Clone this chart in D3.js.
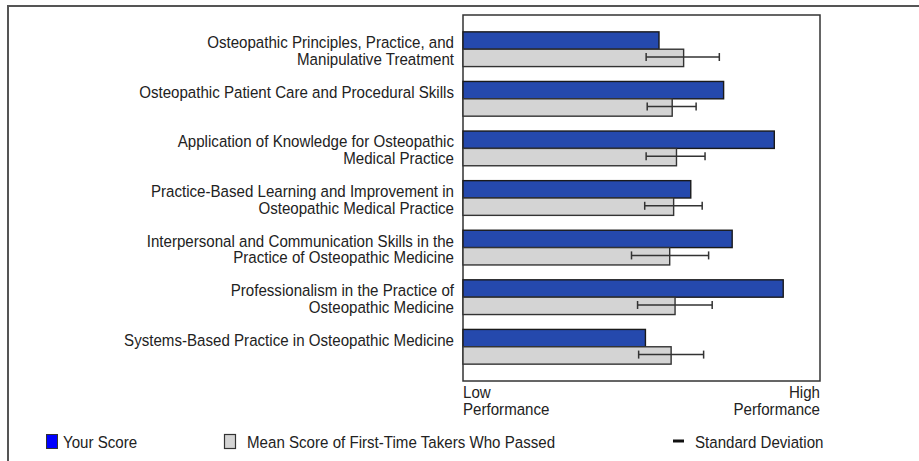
<!DOCTYPE html>
<html>
<head>
<meta charset="utf-8">
<script src="https://d3js.org/d3.v7.min.js"></script>
<style>
  body { margin: 0; background: #fff; }
  text { font-family: "Liberation Sans", Arial, sans-serif; fill: #222; }
</style>
</head>
<body>
<div id="my_dataviz"></div>
<script>
// categories (each label split into its lines)
var categories = [
    ["Osteopathic Principles, Practice, and", "Manipulative Treatment"],
    ["Osteopathic Patient Care and Procedural Skills"],
    ["Application of Knowledge for Osteopathic", "Medical Practice"],
    ["Practice-Based Learning and Improvement in", "Osteopathic Medical Practice"],
    ["Interpersonal and Communication Skills in the", "Practice of Osteopathic Medicine"],
    ["Professionalism in the Practice of", "Osteopathic Medicine"],
    ["Systems-Based Practice in Osteopathic Medicine"]
];
var yourScore = [54.9, 73.0, 87.2, 63.8, 75.4, 89.7, 51.1];
var meanScore = [61.8, 58.6, 59.8, 59.0, 57.9, 59.4, 58.3];
var sdLow = [51.3, 51.6, 51.3, 50.9, 47.2, 48.9, 49.2];
var sdHigh = [71.8, 65.3, 67.8, 67.0, 68.8, 69.8, 67.4];
var legendLabels = ["Your Score", "Mean Score of First-Time Takers Who Passed", "Standard Deviation"];

var W = 919, H = 461;
var plot = { left: 463, right: 820, top: 15, bottom: 381 };
var fs = 16.5, sx = 0.916; // condensed look of the text

var svg = d3.select("#my_dataviz")
    .append("svg")
    .attr("width", W)
    .attr("height", H);

// outer frame (partly visible)
svg.append("path")
    .attr("d", "M8," + H + "V6H" + W)
    .attr("fill", "none")
    .attr("stroke", "#555")
    .attr("stroke-width", 2);

var data = categories.map(function (c, i) {
    return { lines: c, you: yourScore[i], mean: meanScore[i], lo: sdLow[i], hi: sdHigh[i], idx: i };
});

var x = d3.scaleLinear()
    .domain([0, 100])
    .range([plot.left, plot.right]);

var y = d3.scaleBand()
    .domain(d3.range(categories.length))
    .range([plot.top, plot.bottom])
    .paddingInner(0.3)
    .paddingOuter(0.34);

var bh = y.bandwidth() / 2;

// plot frame
svg.append("rect")
    .attr("x", plot.left)
    .attr("y", plot.top)
    .attr("width", plot.right - plot.left)
    .attr("height", plot.bottom - plot.top)
    .attr("fill", "none")
    .attr("stroke", "#333")
    .attr("stroke-width", 1.5);

var g = svg.append("g").selectAll("g")
    .data(data)
    .enter()
    .append("g");

// Your score bars
g.append("rect")
    .attr("x", x(0))
    .attr("y", function (d) { return y(d.idx); })
    .attr("width", function (d) { return x(d.you) - x(0); })
    .attr("height", bh)
    .attr("fill", "#2549ad")
    .attr("stroke", "#1a1a1a")
    .attr("stroke-width", 1.4);

// mean score bars
g.append("rect")
    .attr("x", x(0))
    .attr("y", function (d) { return y(d.idx) + bh; })
    .attr("width", function (d) { return x(d.mean) - x(0); })
    .attr("height", bh)
    .attr("fill", "#d4d4d4")
    .attr("stroke", "#333")
    .attr("stroke-width", 1.4);

// standard deviation whiskers
var ey = function (d) { return y(d.idx) + bh * 1.45; };
g.append("line")
    .attr("x1", function (d) { return x(d.lo); })
    .attr("x2", function (d) { return x(d.hi); })
    .attr("y1", ey)
    .attr("y2", ey)
    .attr("stroke", "#333")
    .attr("stroke-width", 1.5);
["lo", "hi"].forEach(function (k) {
    g.append("line")
        .attr("x1", function (d) { return x(d[k]); })
        .attr("x2", function (d) { return x(d[k]); })
        .attr("y1", function (d) { return ey(d) - 4; })
        .attr("y2", function (d) { return ey(d) + 4; })
        .attr("stroke", "#333")
        .attr("stroke-width", 1.5);
});

// text helper: one text element per line
function label(sel, xp, yp, anchor, lines, gap) {
    lines.forEach(function (line, j) {
        sel.append("text")
            .attr("transform", "translate(" + xp + "," + (yp + j * gap) + ") scale(" + sx + ",1)")
            .attr("text-anchor", anchor)
            .style("font-size", fs + "px")
            .text(line);
    });
}

// category labels
g.each(function (d) {
    label(d3.select(this), 454, y(d.idx) + bh - 1, "end", d.lines, 16.6);
});

// axis end labels
label(svg, x(0), 398, "start", ["Low", "Performance"], 17);
label(svg, x(100), 398, "end", ["High", "Performance"], 17);

// legend
svg.append("rect").attr("x", 46.5).attr("y", 434.5).attr("width", 11).attr("height", 14)
    .attr("fill", "#0000ff").attr("stroke", "#333").attr("stroke-width", 1);
label(svg, 63, 448, "start", [legendLabels[0]], 0);
svg.append("rect").attr("x", 224.5).attr("y", 434.5).attr("width", 11).attr("height", 14)
    .attr("fill", "#d4d4d4").attr("stroke", "#333").attr("stroke-width", 1.2);
label(svg, 247, 448, "start", [legendLabels[1]], 0);
svg.append("line").attr("x1", 673).attr("x2", 684).attr("y1", 441).attr("y2", 441)
    .attr("stroke", "#111").attr("stroke-width", 3);
label(svg, 695, 448, "start", [legendLabels[2]], 0);
</script>
</body>
</html>
